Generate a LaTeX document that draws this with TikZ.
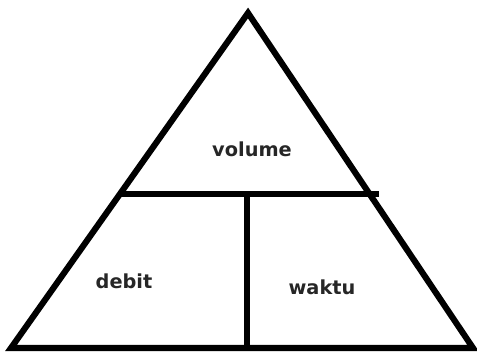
\documentclass[tikz,border=0pt]{standalone}
\usepackage{fontspec}
\setsansfont{DejaVu Sans}
\usetikzlibrary{calc}
\begin{document}
\begin{tikzpicture}[x=0.75pt, y=-0.75pt,
  edge/.style={draw=black, line width=4.6pt, line join=miter, line cap=rect},
  label/.style={font=\sffamily\bfseries\fontsize{14.5}{17}\selectfont, inner sep=0pt, text=black!85}]
\useasboundingbox (0,0) rectangle (477,353);
\coordinate (top) at (248,13);
\coordinate (bl) at (11,348);
\coordinate (br) at (473,348);
\coordinate (ml) at (121,194);
\coordinate (mr) at (379,194);
\coordinate (mid) at (247,194);
\coordinate (base) at (247,348);
\draw[edge] (top) -- (br) -- (bl) -- cycle;
\draw[edge, line cap=butt] (ml) -- (mr);
\draw[edge, line cap=butt] (mid) -- (base);
\node[label] (vol) at (252,149) {volume};
\node[label] (deb) at (124,281) {debit};
\node[label] (wak) at (322,287) {waktu};
\end{tikzpicture}
\end{document}
